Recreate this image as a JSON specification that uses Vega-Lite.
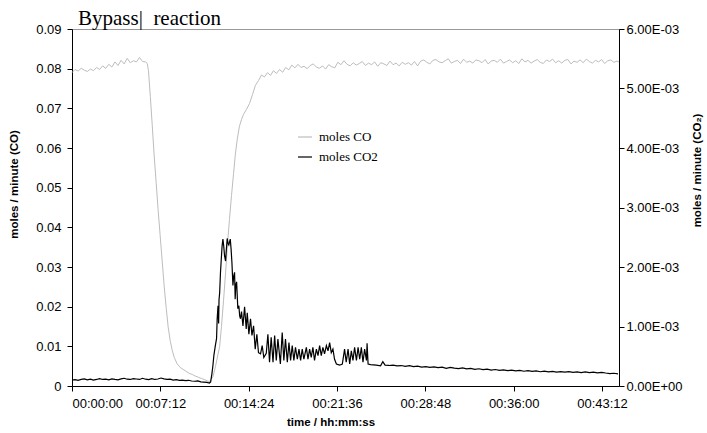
{
  "$schema": "https://vega.github.io/schema/vega-lite/v6.json",
  "autosize": "none",
  "width": 547,
  "height": 357,
  "padding": {"left": 72, "top": 29, "right": 88, "bottom": 47},
  "background": "white",
  "title": {
    "text": "Bypass|\u00a0\u00a0reaction",
    "font": "Liberation Serif",
    "fontSize": 21,
    "fontWeight": "normal",
    "color": "#000000",
    "anchor": "start",
    "frame": "group",
    "baseline": "alphabetic",
    "offset": 0,
    "dx": 6,
    "dy": 23
  },
  "config": {
    "view": {"stroke": "#999999", "strokeWidth": 1},
    "axis": {
      "labelFont": "Liberation Sans",
      "labelFontSize": 13,
      "labelColor": "#000000",
      "titleFont": "Liberation Sans",
      "titleFontSize": 11.5,
      "titleFontWeight": "bold",
      "titleColor": "#000000",
      "domainColor": "#000000",
      "tickColor": "#000000",
      "tickSize": 5,
      "grid": false
    }
  },
  "datasets": {
    "co": [
      {"t": 0, "co": 0.0790}, {"t": 15, "co": 0.0798}, {"t": 30, "co": 0.0794}, {"t": 45, "co": 0.0801},
      {"t": 60, "co": 0.0796}, {"t": 75, "co": 0.0793}, {"t": 90, "co": 0.0799}, {"t": 105, "co": 0.0795},
      {"t": 120, "co": 0.0803}, {"t": 135, "co": 0.0798}, {"t": 150, "co": 0.0807}, {"t": 165, "co": 0.0801},
      {"t": 180, "co": 0.0811}, {"t": 195, "co": 0.0804}, {"t": 210, "co": 0.0817}, {"t": 225, "co": 0.0808},
      {"t": 240, "co": 0.0821}, {"t": 255, "co": 0.0812}, {"t": 270, "co": 0.0826}, {"t": 285, "co": 0.0815},
      {"t": 300, "co": 0.0820}, {"t": 315, "co": 0.0817}, {"t": 330, "co": 0.0828}, {"t": 345, "co": 0.0818},
      {"t": 360, "co": 0.0817}, {"t": 368, "co": 0.0813}, {"t": 374, "co": 0.0795}, {"t": 383, "co": 0.0730},
      {"t": 392, "co": 0.0660}, {"t": 402, "co": 0.0580}, {"t": 412, "co": 0.0510}, {"t": 421, "co": 0.0445},
      {"t": 431, "co": 0.0380}, {"t": 441, "co": 0.0315}, {"t": 451, "co": 0.0250}, {"t": 461, "co": 0.0195},
      {"t": 470, "co": 0.0150}, {"t": 480, "co": 0.0115}, {"t": 490, "co": 0.0090}, {"t": 500, "co": 0.0072},
      {"t": 514, "co": 0.0056}, {"t": 529, "co": 0.0047}, {"t": 543, "co": 0.0042}, {"t": 558, "co": 0.0037},
      {"t": 573, "co": 0.0032}, {"t": 588, "co": 0.0029}, {"t": 603, "co": 0.0025}, {"t": 618, "co": 0.0022},
      {"t": 633, "co": 0.0019}, {"t": 648, "co": 0.0016}, {"t": 662, "co": 0.0013}, {"t": 672, "co": 0.0011},
      {"t": 689, "co": 0.0023}, {"t": 702, "co": 0.0050}, {"t": 713, "co": 0.0078}, {"t": 722, "co": 0.0099},
      {"t": 731, "co": 0.0150}, {"t": 741, "co": 0.0215}, {"t": 751, "co": 0.0285}, {"t": 760, "co": 0.0355},
      {"t": 770, "co": 0.0420}, {"t": 780, "co": 0.0480}, {"t": 790, "co": 0.0535}, {"t": 799, "co": 0.0585},
      {"t": 809, "co": 0.0625}, {"t": 819, "co": 0.0655}, {"t": 829, "co": 0.0672}, {"t": 839, "co": 0.0685},
      {"t": 853, "co": 0.0697}, {"t": 868, "co": 0.0712}, {"t": 883, "co": 0.0735}, {"t": 897, "co": 0.0758},
      {"t": 912, "co": 0.0770}, {"t": 927, "co": 0.0784}, {"t": 941, "co": 0.0779}, {"t": 956, "co": 0.0790},
      {"t": 971, "co": 0.0783}, {"t": 985, "co": 0.0795}, {"t": 1000, "co": 0.0788}, {"t": 1015, "co": 0.0798},
      {"t": 1030, "co": 0.0791}, {"t": 1045, "co": 0.0803}, {"t": 1060, "co": 0.0797},
      {"t": 1075, "co": 0.0809}, {"t": 1090, "co": 0.0802}, {"t": 1105, "co": 0.0811}, {"t": 1120, "co": 0.0803},
      {"t": 1135, "co": 0.0806}, {"t": 1150, "co": 0.0800}, {"t": 1165, "co": 0.0808}, {"t": 1180, "co": 0.0812},
      {"t": 1195, "co": 0.0804}, {"t": 1210, "co": 0.0801}, {"t": 1225, "co": 0.0807}, {"t": 1240, "co": 0.0799},
      {"t": 1255, "co": 0.0810}, {"t": 1270, "co": 0.0805}, {"t": 1285, "co": 0.0802}, {"t": 1300, "co": 0.0816},
      {"t": 1315, "co": 0.0810}, {"t": 1330, "co": 0.0820}, {"t": 1345, "co": 0.0811}, {"t": 1360, "co": 0.0807},
      {"t": 1375, "co": 0.0815}, {"t": 1390, "co": 0.0809}, {"t": 1405, "co": 0.0813}, {"t": 1420, "co": 0.0818},
      {"t": 1435, "co": 0.0808}, {"t": 1450, "co": 0.0814}, {"t": 1465, "co": 0.0810}, {"t": 1480, "co": 0.0817},
      {"t": 1495, "co": 0.0806}, {"t": 1510, "co": 0.0815}, {"t": 1525, "co": 0.0812}, {"t": 1540, "co": 0.0808},
      {"t": 1555, "co": 0.0819}, {"t": 1570, "co": 0.0810}, {"t": 1585, "co": 0.0814}, {"t": 1600, "co": 0.0807},
      {"t": 1615, "co": 0.0816}, {"t": 1630, "co": 0.0811}, {"t": 1645, "co": 0.0815}, {"t": 1660, "co": 0.0809},
      {"t": 1675, "co": 0.0818}, {"t": 1690, "co": 0.0807}, {"t": 1705, "co": 0.0819}, {"t": 1720, "co": 0.0822},
      {"t": 1735, "co": 0.0816}, {"t": 1750, "co": 0.0812}, {"t": 1765, "co": 0.0821}, {"t": 1780, "co": 0.0823},
      {"t": 1795, "co": 0.0817}, {"t": 1810, "co": 0.0815}, {"t": 1825, "co": 0.0820}, {"t": 1840, "co": 0.0825},
      {"t": 1855, "co": 0.0814}, {"t": 1870, "co": 0.0818}, {"t": 1885, "co": 0.0821}, {"t": 1900, "co": 0.0813},
      {"t": 1915, "co": 0.0824}, {"t": 1930, "co": 0.0816}, {"t": 1945, "co": 0.0819}, {"t": 1960, "co": 0.0814},
      {"t": 1975, "co": 0.0822}, {"t": 1990, "co": 0.0820}, {"t": 2005, "co": 0.0815}, {"t": 2020, "co": 0.0823},
      {"t": 2035, "co": 0.0812}, {"t": 2050, "co": 0.0819}, {"t": 2065, "co": 0.0821}, {"t": 2080, "co": 0.0816},
      {"t": 2095, "co": 0.0824}, {"t": 2110, "co": 0.0814}, {"t": 2125, "co": 0.0818}, {"t": 2140, "co": 0.0822},
      {"t": 2155, "co": 0.0815}, {"t": 2170, "co": 0.0820}, {"t": 2185, "co": 0.0813}, {"t": 2200, "co": 0.0825},
      {"t": 2215, "co": 0.0817}, {"t": 2230, "co": 0.0821}, {"t": 2245, "co": 0.0814}, {"t": 2260, "co": 0.0819},
      {"t": 2275, "co": 0.0823}, {"t": 2290, "co": 0.0816}, {"t": 2305, "co": 0.0813}, {"t": 2320, "co": 0.0822},
      {"t": 2335, "co": 0.0818}, {"t": 2350, "co": 0.0824}, {"t": 2365, "co": 0.0815}, {"t": 2380, "co": 0.0820},
      {"t": 2395, "co": 0.0814}, {"t": 2410, "co": 0.0821}, {"t": 2425, "co": 0.0823}, {"t": 2440, "co": 0.0812},
      {"t": 2455, "co": 0.0819}, {"t": 2470, "co": 0.0816}, {"t": 2485, "co": 0.0822}, {"t": 2500, "co": 0.0815},
      {"t": 2515, "co": 0.0824}, {"t": 2530, "co": 0.0818}, {"t": 2545, "co": 0.0814}, {"t": 2560, "co": 0.0821},
      {"t": 2575, "co": 0.0817}, {"t": 2590, "co": 0.0823}, {"t": 2605, "co": 0.0813}, {"t": 2620, "co": 0.0820},
      {"t": 2635, "co": 0.0822}, {"t": 2650, "co": 0.0816}, {"t": 2665, "co": 0.0819}, {"t": 2675, "co": 0.0817}
    ],
    "co2": [
      {"t": 0, "co2": 0.000100}, {"t": 15, "co2": 0.000108}, {"t": 30, "co2": 0.000096}, {"t": 45, "co2": 0.000110},
      {"t": 60, "co2": 0.000118}, {"t": 75, "co2": 0.000104}, {"t": 90, "co2": 0.000114}, {"t": 105, "co2": 0.000100},
      {"t": 120, "co2": 0.000110}, {"t": 135, "co2": 0.000124}, {"t": 150, "co2": 0.000110}, {"t": 165, "co2": 0.000116},
      {"t": 180, "co2": 0.000102}, {"t": 195, "co2": 0.000120}, {"t": 210, "co2": 0.000110}, {"t": 225, "co2": 0.000104},
      {"t": 240, "co2": 0.000120}, {"t": 255, "co2": 0.000130}, {"t": 270, "co2": 0.000114}, {"t": 285, "co2": 0.000110},
      {"t": 300, "co2": 0.000124}, {"t": 315, "co2": 0.000118}, {"t": 330, "co2": 0.000110}, {"t": 345, "co2": 0.000130},
      {"t": 360, "co2": 0.000114}, {"t": 375, "co2": 0.000108}, {"t": 390, "co2": 0.000124}, {"t": 405, "co2": 0.000110},
      {"t": 420, "co2": 0.000118}, {"t": 435, "co2": 0.000134}, {"t": 450, "co2": 0.000120}, {"t": 465, "co2": 0.000110},
      {"t": 480, "co2": 0.000114}, {"t": 495, "co2": 0.000100}, {"t": 510, "co2": 0.000106}, {"t": 525, "co2": 0.000094},
      {"t": 540, "co2": 0.000100}, {"t": 555, "co2": 0.000090}, {"t": 570, "co2": 0.000096}, {"t": 585, "co2": 0.000084},
      {"t": 600, "co2": 0.000080}, {"t": 615, "co2": 0.000086}, {"t": 630, "co2": 0.000070}, {"t": 645, "co2": 0.000066},
      {"t": 660, "co2": 0.000060}, {"t": 672, "co2": 0.000050}, {"t": 678, "co2": 0.000070}, {"t": 684, "co2": 0.000200},
      {"t": 689, "co2": 0.000340}, {"t": 694, "co2": 0.000520}, {"t": 701, "co2": 0.000680}, {"t": 707, "co2": 0.000800},
      {"t": 710, "co2": 0.001130}, {"t": 714, "co2": 0.001350}, {"t": 717, "co2": 0.001050}, {"t": 719, "co2": 0.001450},
      {"t": 722, "co2": 0.001560}, {"t": 726, "co2": 0.001900}, {"t": 730, "co2": 0.002130}, {"t": 734, "co2": 0.002350},
      {"t": 738, "co2": 0.002470}, {"t": 742, "co2": 0.002350}, {"t": 746, "co2": 0.002190}, {"t": 751, "co2": 0.002100},
      {"t": 755, "co2": 0.002300}, {"t": 759, "co2": 0.002480}, {"t": 763, "co2": 0.002400}, {"t": 767, "co2": 0.002370},
      {"t": 774, "co2": 0.002470}, {"t": 778, "co2": 0.002300}, {"t": 782, "co2": 0.002080}, {"t": 787, "co2": 0.001690},
      {"t": 791, "co2": 0.001850}, {"t": 795, "co2": 0.001910}, {"t": 798, "co2": 0.001460}, {"t": 801, "co2": 0.001700},
      {"t": 805, "co2": 0.001750}, {"t": 811, "co2": 0.001300}, {"t": 816, "co2": 0.001350}, {"t": 820, "co2": 0.001180},
      {"t": 824, "co2": 0.001130}, {"t": 829, "co2": 0.001250}, {"t": 836, "co2": 0.001010}, {"t": 844, "co2": 0.001330},
      {"t": 852, "co2": 0.000960}, {"t": 857, "co2": 0.001230}, {"t": 865, "co2": 0.000870}, {"t": 873, "co2": 0.001130},
      {"t": 880, "co2": 0.000850}, {"t": 888, "co2": 0.001010}, {"t": 896, "co2": 0.000620}, {"t": 904, "co2": 0.000870},
      {"t": 912, "co2": 0.000560}, {"t": 922, "co2": 0.000540}, {"t": 930, "co2": 0.000680}, {"t": 938, "co2": 0.000480},
      {"t": 950, "co2": 0.000550}, {"t": 958, "co2": 0.000870}, {"t": 966, "co2": 0.000400}, {"t": 974, "co2": 0.000820},
      {"t": 983, "co2": 0.000400}, {"t": 991, "co2": 0.000850}, {"t": 999, "co2": 0.000430}, {"t": 1007, "co2": 0.000790},
      {"t": 1019, "co2": 0.000370}, {"t": 1028, "co2": 0.000900}, {"t": 1036, "co2": 0.000430}, {"t": 1044, "co2": 0.000790},
      {"t": 1053, "co2": 0.000400}, {"t": 1061, "co2": 0.000730}, {"t": 1069, "co2": 0.000430}, {"t": 1077, "co2": 0.000680},
      {"t": 1085, "co2": 0.000430}, {"t": 1093, "co2": 0.000650}, {"t": 1102, "co2": 0.000450}, {"t": 1110, "co2": 0.000620},
      {"t": 1118, "co2": 0.000430}, {"t": 1126, "co2": 0.000620}, {"t": 1134, "co2": 0.000450}, {"t": 1146, "co2": 0.000650},
      {"t": 1154, "co2": 0.000450}, {"t": 1162, "co2": 0.000620}, {"t": 1170, "co2": 0.000480}, {"t": 1178, "co2": 0.000650},
      {"t": 1186, "co2": 0.000430}, {"t": 1195, "co2": 0.000620}, {"t": 1203, "co2": 0.000510}, {"t": 1211, "co2": 0.000680},
      {"t": 1219, "co2": 0.000510}, {"t": 1227, "co2": 0.000650}, {"t": 1235, "co2": 0.000540}, {"t": 1244, "co2": 0.000680},
      {"t": 1252, "co2": 0.000590}, {"t": 1260, "co2": 0.000730}, {"t": 1268, "co2": 0.000560}, {"t": 1276, "co2": 0.000620},
      {"t": 1284, "co2": 0.000450}, {"t": 1293, "co2": 0.000370}, {"t": 1309, "co2": 0.000350}, {"t": 1322, "co2": 0.000370},
      {"t": 1333, "co2": 0.000620}, {"t": 1341, "co2": 0.000400}, {"t": 1350, "co2": 0.000620}, {"t": 1358, "co2": 0.000370},
      {"t": 1366, "co2": 0.000590}, {"t": 1374, "co2": 0.000430}, {"t": 1382, "co2": 0.000650}, {"t": 1391, "co2": 0.000430},
      {"t": 1399, "co2": 0.000650}, {"t": 1407, "co2": 0.000450}, {"t": 1415, "co2": 0.000650}, {"t": 1423, "co2": 0.000400},
      {"t": 1431, "co2": 0.000620}, {"t": 1440, "co2": 0.000430}, {"t": 1443, "co2": 0.000720}, {"t": 1448, "co2": 0.000370},
      {"t": 1460, "co2": 0.000360}, {"t": 1488, "co2": 0.000350}, {"t": 1509, "co2": 0.000340}, {"t": 1520, "co2": 0.000410},
      {"t": 1531, "co2": 0.000350}, {"t": 1550, "co2": 0.000345}, {"t": 1570, "co2": 0.000352}, {"t": 1590, "co2": 0.000338},
      {"t": 1610, "co2": 0.000344}, {"t": 1630, "co2": 0.000330}, {"t": 1650, "co2": 0.000341}, {"t": 1670, "co2": 0.000326},
      {"t": 1690, "co2": 0.000335}, {"t": 1710, "co2": 0.000318}, {"t": 1730, "co2": 0.000327}, {"t": 1750, "co2": 0.000312},
      {"t": 1770, "co2": 0.000322}, {"t": 1790, "co2": 0.000309}, {"t": 1810, "co2": 0.000318}, {"t": 1830, "co2": 0.000298},
      {"t": 1850, "co2": 0.000312}, {"t": 1870, "co2": 0.000300}, {"t": 1890, "co2": 0.000292}, {"t": 1910, "co2": 0.000305},
      {"t": 1930, "co2": 0.000288}, {"t": 1950, "co2": 0.000296}, {"t": 1970, "co2": 0.000279}, {"t": 1990, "co2": 0.000290},
      {"t": 2010, "co2": 0.000275}, {"t": 2030, "co2": 0.000284}, {"t": 2050, "co2": 0.000266}, {"t": 2070, "co2": 0.000277},
      {"t": 2090, "co2": 0.000262}, {"t": 2110, "co2": 0.000272}, {"t": 2130, "co2": 0.000258}, {"t": 2150, "co2": 0.000268},
      {"t": 2170, "co2": 0.000254}, {"t": 2190, "co2": 0.000262}, {"t": 2210, "co2": 0.000248}, {"t": 2230, "co2": 0.000257},
      {"t": 2250, "co2": 0.000246}, {"t": 2270, "co2": 0.000254}, {"t": 2290, "co2": 0.000240}, {"t": 2310, "co2": 0.000251},
      {"t": 2330, "co2": 0.000238}, {"t": 2350, "co2": 0.000246}, {"t": 2370, "co2": 0.000234}, {"t": 2390, "co2": 0.000243},
      {"t": 2410, "co2": 0.000232}, {"t": 2430, "co2": 0.000240}, {"t": 2450, "co2": 0.000229}, {"t": 2470, "co2": 0.000238},
      {"t": 2490, "co2": 0.000226}, {"t": 2510, "co2": 0.000236}, {"t": 2530, "co2": 0.000224}, {"t": 2550, "co2": 0.000233},
      {"t": 2570, "co2": 0.000222}, {"t": 2590, "co2": 0.000230}, {"t": 2610, "co2": 0.000218}, {"t": 2630, "co2": 0.000208},
      {"t": 2650, "co2": 0.000214}, {"t": 2670, "co2": 0.000205}
    ]
  },
  "layer": [
    {
      "data": {"name": "co"},
      "mark": {"type": "line", "strokeWidth": 1, "interpolate": "linear"},
      "encoding": {
        "x": {
          "field": "t", "type": "quantitative",
          "scale": {"domain": [0, 2675], "nice": false, "zero": false},
          "axis": {
            "title": "time / hh:mm:ss",
            "values": [0, 432, 864, 1296, 1728, 2160, 2592],
            "labelExpr": "utcFormat(datum.value * 1000, '%H:%M:%S')",
            "labelPadding": 6,
            "titleX": 258.5,
            "titleY": 36,
            "titleBaseline": "middle",
            "titleAnchor": "middle"
          }
        },
        "y": {
          "field": "co", "type": "quantitative",
          "scale": {"domain": [0, 0.09], "nice": false},
          "axis": {
            "title": "moles / minute (CO)",
            "orient": "left",
            "values": [0, 0.01, 0.02, 0.03, 0.04, 0.05, 0.06, 0.07, 0.08, 0.09],
            "labelExpr": "datum.value == 0 ? '0' : format(datum.value, '.2f')",
            "labelPadding": 6,
            "titleAngle": 270,
            "titleX": -58,
            "titleY": 155,
            "titleBaseline": "middle",
            "titleAnchor": "middle"
          }
        },
        "color": {
          "datum": "moles CO",
          "type": "nominal",
          "scale": {"domain": ["moles CO", "moles CO2"], "range": ["#bdbdbd", "#000000"]},
          "legend": {
            "title": null,
            "orient": "none",
            "legendX": 225,
            "legendY": 100,
            "symbolType": "stroke",
            "symbolSize": 196,
            "symbolStrokeWidth": 1.2,
            "labelFont": "Liberation Serif",
            "labelFontSize": 13,
            "labelColor": "#000000",
            "labelOffset": 6,
            "rowPadding": 5,
            "padding": 0
          }
        }
      }
    },
    {
      "data": {"name": "co2"},
      "mark": {"type": "line", "strokeWidth": 1.2, "interpolate": "linear"},
      "encoding": {
        "x": {"field": "t", "type": "quantitative"},
        "y": {
          "field": "co2", "type": "quantitative",
          "scale": {"domain": [0, 0.006], "nice": false},
          "axis": {
            "title": "moles / minute (CO₂)",
            "orient": "right",
            "values": [0, 0.001, 0.002, 0.003, 0.004, 0.005, 0.006],
            "labelExpr": "datum.value == 0 ? '0.00E+00' : format(datum.value * 1000, '.2f') + 'E-03'",
            "labelPadding": 2,
            "titleAngle": 270,
            "titleX": 78,
            "titleY": 141,
            "titleBaseline": "middle",
            "titleAnchor": "middle"
          }
        },
        "color": {"datum": "moles CO2", "type": "nominal"}
      }
    }
  ],
  "resolve": {"scale": {"y": "independent"}, "axis": {"y": "independent"}}
}
